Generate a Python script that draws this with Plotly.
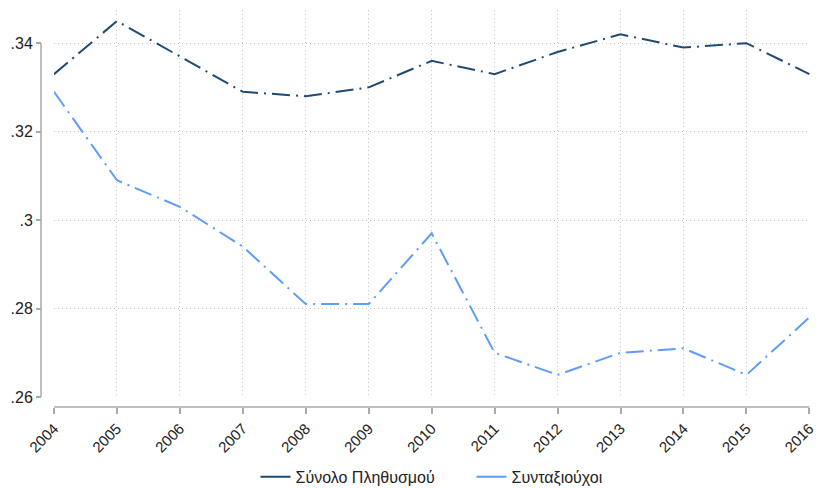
import plotly.graph_objects as go

years = [2004, 2005, 2006, 2007, 2008, 2009, 2010, 2011, 2012, 2013, 2014, 2015, 2016]
total_pop = [0.333, 0.345, 0.337, 0.329, 0.328, 0.330, 0.336, 0.333, 0.338, 0.342, 0.339, 0.340, 0.333]
pensioners = [0.329, 0.309, 0.303, 0.294, 0.281, 0.281, 0.297, 0.270, 0.265, 0.270, 0.271, 0.265, 0.278]
names = ["Σύνολο Πληθυσμού", "Συνταξιούχοι"]
colors = ["#1f4a72", "#5f9cf7"]
y_ticks = [0.26, 0.28, 0.30, 0.32, 0.34]
y_ticktext = [".26", ".28", ".3", ".32", ".34"]

dash = "18px,6px,2px,6px"
fig = go.Figure()
for vals, nm, c in zip([total_pop, pensioners], names, colors):
    fig.add_trace(go.Scatter(x=years, y=vals, mode="lines", name=nm,
                             line=dict(color=c, width=2, dash=dash), showlegend=False,
                             cliponaxis=False))
    fig.add_trace(go.Scatter(x=[None], y=[None], mode="lines", name=nm,
                             line=dict(color=c, width=2)))

fam = "Liberation Sans, Arial, sans-serif"
grid = dict(showgrid=True, gridcolor="#c8c8c8", griddash="1px,3px", gridwidth=1)
fig.update_layout(
    width=816, height=488,
    margin=dict(l=41, r=6, t=10, b=81, autoexpand=False),
    plot_bgcolor="white", paper_bgcolor="white",
    font=dict(family=fam, size=15, color="#222"),
    xaxis=dict(domain=[0.0169, 1], anchor="free", position=0, automargin=False,
               range=[2004, 2016.01], tickmode="array", tickvals=years,
               ticktext=[str(y) for y in years], tickangle=-45,
               ticklabeloverflow="allow",
               tickfont=dict(family=fam, size=15, color="#222"),
               ticks="outside", ticklen=6, tickcolor="#aaaaaa", tickwidth=1.5,
               showline=False, zeroline=False, **grid),
    yaxis=dict(domain=[0.0252, 1], anchor="free", position=0, automargin=False,
               range=[0.26, 0.3475], tickmode="array", tickvals=y_ticks,
               ticktext=y_ticktext, ticks="outside", ticklen=5,
               tickfont=dict(family=fam, size=16, color="#222"),
               tickcolor="#aaaaaa", tickwidth=1.5,
               showline=False, zeroline=False, **grid),
    legend=dict(orientation="h", x=0.5598, xanchor="center", y=-0.176, yanchor="middle",
                font=dict(family=fam, size=16, color="#222"),
                itemwidth=30, entrywidth=171, entrywidthmode="pixels"),
    shapes=[
        dict(type="line", xref="paper", yref="y", x0=0, x1=0, y0=0.26, y1=0.34,
             line=dict(color="#aaaaaa", width=1.5)),
        dict(type="line", xref="x", yref="paper", x0=2004, x1=2016, y0=0, y1=0,
             line=dict(color="#aaaaaa", width=1.5)),
    ],
)
fig.write_html("out.html", config={"displayModeBar": False},
               post_script="document.body.style.margin='0';document.body.style.overflow='hidden';")
